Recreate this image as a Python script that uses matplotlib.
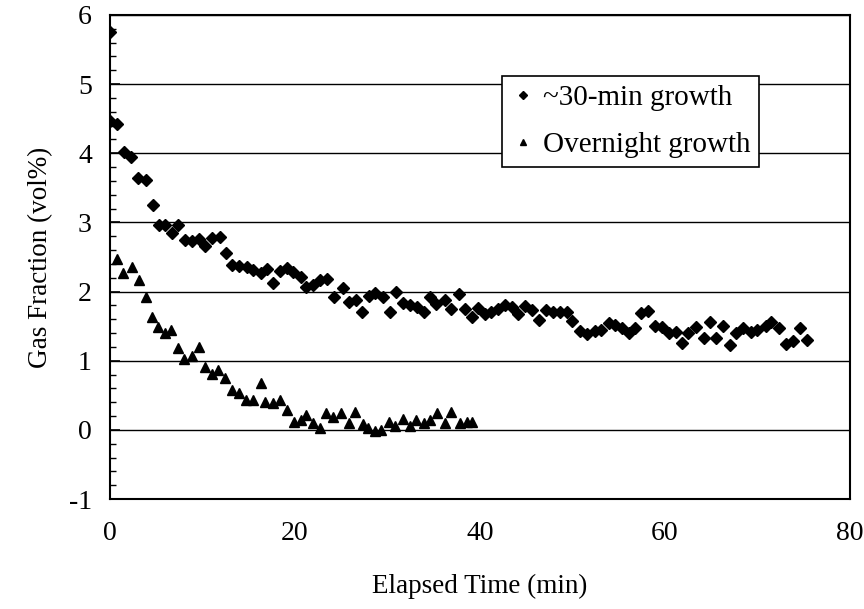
import matplotlib
matplotlib.use("Agg")
import matplotlib.pyplot as plt
from matplotlib.ticker import MultipleLocator

# ~30-min growth run
t_short = [0.0, 0.0, 0.75, 1.5, 2.25, 3.0, 3.85, 4.6, 5.25, 6.0, 6.65, 7.4, 8.15, 8.9,
           9.6, 10.3, 11.0, 11.9, 12.5, 13.2, 14.0, 14.8, 15.5, 16.3, 17.0, 17.6, 18.4,
           19.1, 19.8, 20.6, 21.2, 22.0, 22.7, 23.5, 24.2, 25.2, 25.8, 26.6, 27.2, 28.0,
           28.6, 29.5, 30.3, 30.95, 31.7, 32.45, 33.2, 33.9, 34.6, 35.2, 36.2, 36.9, 37.7,
           38.4, 39.1, 39.8, 40.5, 41.2, 42.0, 42.7, 43.5, 44.1, 44.9, 45.6, 46.4, 47.1,
           47.9, 48.6, 49.4, 50.0, 50.8, 51.6, 52.4, 53.1, 53.9, 54.6, 55.4, 56.1, 56.8,
           57.4, 58.2, 58.9, 59.7, 60.4, 61.2, 61.8, 62.5, 63.4, 64.2, 64.9, 65.5, 66.3,
           67.0, 67.7, 68.4, 69.3, 69.9, 70.9, 71.5, 72.3, 73.1, 73.8, 74.6, 75.3]
gas_short = [5.75, 4.47, 4.42, 4.02, 3.95, 3.64, 3.61, 3.25, 2.96, 2.96, 2.85, 2.96, 2.75,
             2.73, 2.76, 2.66, 2.78, 2.79, 2.56, 2.39, 2.37, 2.36, 2.31, 2.27, 2.33, 2.13,
             2.30, 2.34, 2.28, 2.21, 2.07, 2.10, 2.17, 2.18, 1.92, 2.05, 1.85, 1.88, 1.71,
             1.94, 1.98, 1.92, 1.71, 2.00, 1.84, 1.81, 1.78, 1.71, 1.92, 1.82, 1.88, 1.75,
             1.97, 1.75, 1.63, 1.76, 1.68, 1.71, 1.75, 1.81, 1.78, 1.68, 1.79, 1.73, 1.59,
             1.73, 1.71, 1.71, 1.71, 1.58, 1.43, 1.39, 1.43, 1.45, 1.55, 1.52, 1.47, 1.40,
             1.47, 1.69, 1.72, 1.50, 1.49, 1.40, 1.42, 1.26, 1.40, 1.49, 1.33, 1.56, 1.33,
             1.50, 1.23, 1.40, 1.47, 1.42, 1.45, 1.50, 1.56, 1.47, 1.24, 1.29, 1.47, 1.30]

# Overnight growth run
t_night = [0.75, 1.4, 2.35, 3.1, 3.85, 4.5, 5.15, 6.0, 6.6, 7.3, 8.0, 8.9, 9.6, 10.3,
           11.0, 11.7, 12.4, 13.2, 14.0, 14.7, 15.5, 16.3, 16.8, 17.6, 18.4, 19.1, 19.9,
           20.6, 21.2, 22.0, 22.7, 23.4, 24.1, 25.0, 25.8, 26.5, 27.3, 27.9, 28.6, 29.3,
           30.2, 30.8, 31.7, 32.4, 33.1, 33.9, 34.6, 35.3, 36.2, 36.9, 37.8, 38.6, 39.1]
gas_night = [2.47, 2.27, 2.36, 2.17, 1.92, 1.63, 1.49, 1.40, 1.45, 1.19, 1.03, 1.07, 1.20,
             0.91, 0.81, 0.87, 0.75, 0.58, 0.53, 0.43, 0.43, 0.68, 0.40, 0.39, 0.43, 0.29,
             0.12, 0.14, 0.22, 0.10, 0.03, 0.24, 0.19, 0.24, 0.10, 0.26, 0.09, 0.03, -0.01,
             0.00, 0.12, 0.05, 0.16, 0.05, 0.14, 0.10, 0.14, 0.24, 0.10, 0.26, 0.10, 0.12,
             0.12]

x_ticks = [0, 20, 40, 60, 80]
y_ticks = [-1, 0, 1, 2, 3, 4, 5, 6]

plt.rcParams['font.family'] = ['Liberation Serif', 'DejaVu Serif']

fig = plt.figure(figsize=(8.64, 6.09), dpi=100)
ax = fig.add_axes([0.1273, 0.1806, 0.8565, 0.7948])

ax.plot(t_short, gas_short, linestyle='none', marker='D', markersize=6.5,
        color='black', label='~30-min growth', zorder=3)
ax.plot(t_night, gas_night, linestyle='none', marker='^', markersize=7.5,
        color='black', label='Overnight growth', zorder=3)

ax.set_xlim(0, 80)
ax.set_ylim(-1, 6)
ax.set_xticks(x_ticks)
ax.set_yticks(y_ticks)
ax.set_yticklabels([str(v) for v in y_ticks])
ax.yaxis.set_minor_locator(MultipleLocator(0.2))

ax.yaxis.grid(True, which='major', color='black', linewidth=1.0)
ax.set_axisbelow(True)

ax.tick_params(axis='y', which='major', direction='in', length=7, width=1.2,
               labelsize=20, pad=13)
ax.tick_params(axis='y', which='minor', direction='in', length=4, width=1.0)
ax.tick_params(axis='x', which='major', direction='in', length=0,
               labelsize=20, pad=16)

for s in ax.spines.values():
    s.set_linewidth(1.5)
    s.set_color('black')

ax.set_xlabel('Elapsed Time (min)', fontsize=19.5, labelpad=20)
ax.set_ylabel('Gas Fraction (vol%)', fontsize=19.5, labelpad=11)

leg = ax.legend(loc='upper left', bbox_to_anchor=(0.53, 0.874), fontsize=21,
                frameon=True, fancybox=False, edgecolor='black', framealpha=1,
                markerscale=0.6, handlelength=0.8, handletextpad=0.3,
                borderpad=0.3, labelspacing=0.7, borderaxespad=0)
leg.get_frame().set_linewidth(1.2)

fig.savefig('out.png', dpi=100)
